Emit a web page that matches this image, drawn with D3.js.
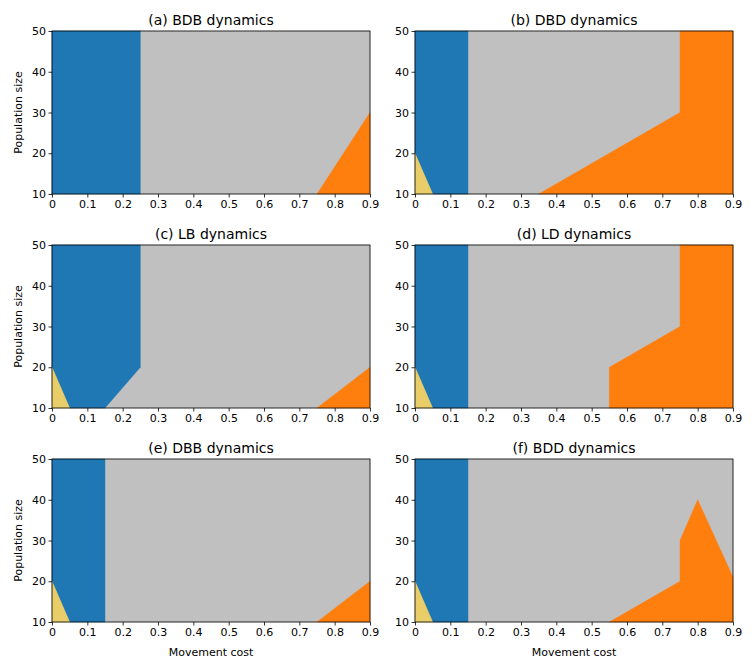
<!DOCTYPE html>
<html>
<head>
<meta charset="utf-8">
<script src="https://cdn.jsdelivr.net/npm/d3@7"></script>
<style>
  body { margin: 0; background: #fff; }
  svg text { font-family: "DejaVu Sans", sans-serif; fill: #000; }
</style>
</head>
<body>
<svg id="chart" width="756" height="672"></svg>
<script>
// tick values
const xTicks = [0, 0.1, 0.2, 0.3, 0.4, 0.5, 0.6, 0.7, 0.8, 0.9]
const yTicks = [10, 20, 30, 40, 50]

const titles = ['(a) BDB dynamics', '(b) DBD dynamics', '(c) LB dynamics',
                '(d) LD dynamics', '(e) DBB dynamics', '(f) BDD dynamics']

// region outlines in data units [movement cost, population size]
const whole = [[0, 10], [0, 50], [0.9, 50], [0.9, 10]]
const yellowCorner = [[0, 10], [0, 20], [0.05, 10]]
const blueWide = [[0, 10], [0, 50], [0.25, 50], [0.25, 10]]
const blueNarrow = [[0.05, 10], [0, 20], [0, 50], [0.15, 50], [0.15, 10]]
const blueLB = [[0.05, 10], [0, 20], [0, 50], [0.25, 50], [0.25, 20], [0.15, 10]]

const orangeBDB = [[0.75, 10], [0.9, 30], [0.9, 10]]
const orangeDBD = [[0.35, 10], [0.75, 30], [0.75, 50], [0.9, 50], [0.9, 10]]
const orangeLB = [[0.75, 10], [0.9, 20], [0.9, 10]]
const orangeLD = [[0.55, 10], [0.55, 20], [0.75, 30], [0.75, 50], [0.9, 50], [0.9, 10]]
const orangeDBB = [[0.75, 10], [0.9, 20], [0.9, 10]]
const orangeBDD = [[0.55, 10], [0.75, 20], [0.75, 30], [0.8, 40], [0.9, 21], [0.9, 10]]

const colors = { gray: '#c0c0c0', blue: '#1f77b4', orange: '#ff7f0e', yellow: '#e8cd68' }

const panelRegions = [
  [['gray', whole], ['blue', blueWide], ['orange', orangeBDB]],
  [['gray', whole], ['blue', blueNarrow], ['yellow', yellowCorner], ['orange', orangeDBD]],
  [['gray', whole], ['blue', blueLB], ['yellow', yellowCorner], ['orange', orangeLB]],
  [['gray', whole], ['blue', blueNarrow], ['yellow', yellowCorner], ['orange', orangeLD]],
  [['gray', whole], ['blue', blueNarrow], ['yellow', yellowCorner], ['orange', orangeDBB]],
  [['gray', whole], ['blue', blueNarrow], ['yellow', yellowCorner], ['orange', orangeBDD]]
]

const svg = d3.select('#chart')
const colLeft = [52, 415]
const rowTop = [31, 245, 459]
const w = 318, h = 163

titles.forEach((title, i) => {
  const col = i % 2, row = Math.floor(i / 2)
  const g = svg.append('g').attr('transform', `translate(${colLeft[col]},${rowTop[row]})`)

  const x = d3.scaleLinear().domain([0, 0.9]).range([0, w])
  const y = d3.scaleLinear().domain([10, 50]).range([h, 0])
  const line = d3.line().x((d)=> x(d[0])).y((d)=> y(d[1]))

  g.selectAll('.region')
    .data(panelRegions[i])
    .enter()
    .append('path')
    .attr('class', 'region')
    .attr('d', (d)=> line(d[1]) + 'Z')
    .attr('fill', (d)=> colors[d[0]])
    .attr('stroke', (d)=> colors[d[0]])
    .attr('stroke-width', 0.4)

  const xAxis = g.append('g')
    .attr('transform', `translate(0,${h})`)
    .call(d3.axisBottom(x).tickValues(xTicks).tickSize(3.5).tickPadding(2.5)
      .tickFormat((d)=> d === 0 ? '0' : d3.format('.1f')(d)))
  const yAxis = g.append('g')
    .call(d3.axisLeft(y).tickValues(yTicks).tickSize(3.5).tickPadding(2.5))

  ;[xAxis, yAxis].forEach((a)=> {
    a.select('.domain').remove()
    a.selectAll('.tick line').attr('stroke', '#000').attr('stroke-width', 0.8)
    a.selectAll('.tick text').attr('font-size', 11).attr('font-family', '"DejaVu Sans", sans-serif')
  })

  g.append('rect')
    .attr('width', w).attr('height', h)
    .attr('fill', 'none').attr('stroke', '#000').attr('stroke-width', 0.8)

  g.append('text')
    .attr('x', w / 2).attr('y', -6)
    .attr('text-anchor', 'middle')
    .attr('font-size', 14)
    .text(title)

  if(col === 0)
    g.append('text')
      .attr('transform', `translate(-30,${h / 2}) rotate(-90)`)
      .attr('text-anchor', 'middle')
      .attr('font-size', 11)
      .text('Population size')

  if(row === 2)
    g.append('text')
      .attr('x', w / 2).attr('y', h + 34)
      .attr('text-anchor', 'middle')
      .attr('font-size', 11)
      .text('Movement cost')
})
</script>
</body>
</html>
